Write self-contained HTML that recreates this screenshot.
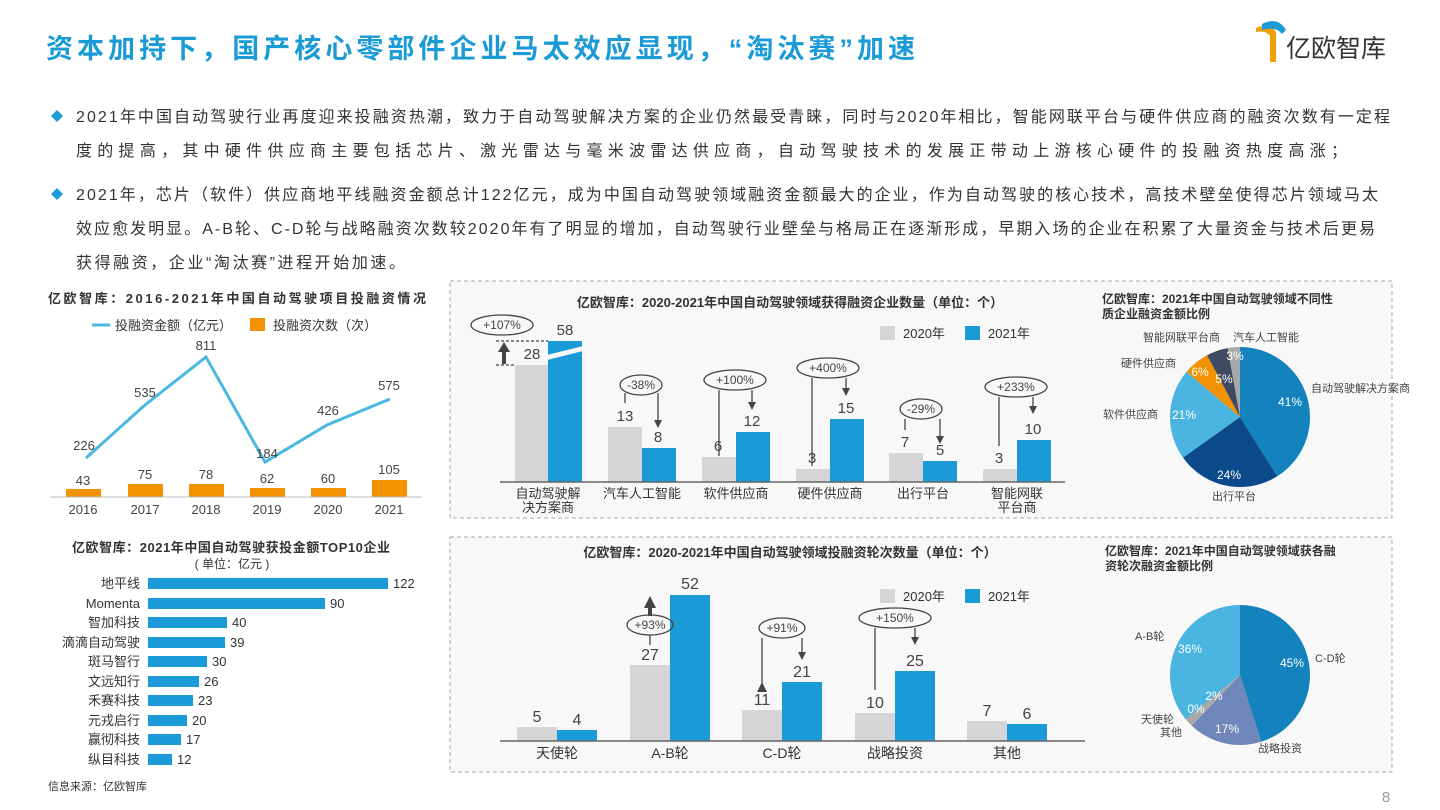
<!DOCTYPE html>
<html><head><meta charset="utf-8"><style>
html,body{margin:0;padding:0;background:#fff;}
svg{display:block;font-family:"Liberation Sans","Noto Sans CJK SC",sans-serif;}
</style></head><body>
<svg width="1440" height="810" viewBox="0 0 1440 810" xmlns="http://www.w3.org/2000/svg">
<rect width="1440" height="810" fill="#fff"/>
<!-- title -->
<text x="46" y="58" font-size="27" font-weight="bold" fill="#1a9ad6" textLength="869" lengthAdjust="spacing">资本加持下，国产核心零部件企业马太效应显现，“淘汰赛”加速</text>
<!-- logo -->
<g>
<path d="M1256 28 q14 -6 20 4 l0 30 l-6 0 l0 -26 q-4 -6 -14 -4z" fill="#f0a000"/>
<path d="M1262 24 q16 -8 24 6 l-4 4 q-6 -8 -20 -4z" fill="#1a9ad6"/>
<text x="1286" y="57" font-size="25" fill="#333">亿欧智库</text>
</g>
<!-- bullets -->
<g font-size="16" fill="#333">
<path d="M57 110 l6 6 l-6 6 l-6 -6z" fill="#1a9ad6"/>
<text x="76" y="122" textLength="1314" lengthAdjust="spacing">2021年中国自动驾驶行业再度迎来投融资热潮，致力于自动驾驶解决方案的企业仍然最受青睐，同时与2020年相比，智能网联平台与硬件供应商的融资次数有一定程</text>
<text x="76" y="156" textLength="1271" lengthAdjust="spacing">度的提高，其中硬件供应商主要包括芯片、激光雷达与毫米波雷达供应商，自动驾驶技术的发展正带动上游核心硬件的投融资热度高涨；</text>
<path d="M57 188 l6 6 l-6 6 l-6 -6z" fill="#1a9ad6"/>
<text x="76" y="200" textLength="1302" lengthAdjust="spacing">2021年，芯片（软件）供应商地平线融资金额总计122亿元，成为中国自动驾驶领域融资金额最大的企业，作为自动驾驶的核心技术，高技术壁垒使得芯片领域马太</text>
<text x="76" y="234" textLength="1299" lengthAdjust="spacing">效应愈发明显。A-B轮、C-D轮与战略融资次数较2020年有了明显的增加，自动驾驶行业壁垒与格局正在逐渐形成，早期入场的企业在积累了大量资金与技术后更易</text>
<text x="76" y="268" textLength="329" lengthAdjust="spacing">获得融资，企业“淘汰赛”进程开始加速。</text>
</g>

<!-- Top-left chart -->
<text x="48" y="303" font-size="13" font-weight="bold" fill="#333" textLength="378" lengthAdjust="spacing">亿欧智库：2016-2021年中国自动驾驶项目投融资情况</text>
<line x1="92" y1="325" x2="110" y2="325" stroke="#4ab8e0" stroke-width="3"/>
<text x="115" y="330" font-size="13" fill="#333">投融资金额（亿元）</text>
<rect x="250" y="318" width="15" height="13" fill="#f39200"/>
<text x="273" y="330" font-size="13" fill="#333">投融资次数（次）</text>
<polyline points="86,458 145,405 206,357 265,462 327,425 390,399" fill="none" stroke="#4ab8e0" stroke-width="3"/>
<g font-size="13" fill="#444" text-anchor="middle">
<text x="84" y="450">226</text><text x="145" y="397">535</text><text x="206" y="350">811</text>
<text x="267" y="458">184</text><text x="328" y="415">426</text><text x="389" y="390">575</text>
</g>
<g fill="#f39200">
<rect x="66" y="489" width="35" height="8"/><rect x="128" y="484" width="35" height="13"/>
<rect x="189" y="484" width="35" height="13"/><rect x="250" y="488" width="35" height="9"/>
<rect x="311" y="488" width="35" height="9"/><rect x="372" y="480" width="35" height="17"/>
</g>
<g font-size="13" fill="#444" text-anchor="middle">
<text x="83" y="485">43</text><text x="145" y="479">75</text><text x="206" y="479">78</text>
<text x="267" y="483">62</text><text x="328" y="483">60</text><text x="389" y="474">105</text>
</g>
<line x1="50" y1="497" x2="422" y2="497" stroke="#bbb"/>
<g font-size="13" fill="#444" text-anchor="middle">
<text x="83" y="514">2016</text><text x="145" y="514">2017</text><text x="206" y="514">2018</text>
<text x="267" y="514">2019</text><text x="328" y="514">2020</text><text x="389" y="514">2021</text>
</g>

<!-- Bottom-left chart -->
<text x="72" y="552" font-size="13" font-weight="bold" fill="#333" textLength="318" lengthAdjust="spacing">亿欧智库：2021年中国自动驾驶获投金额TOP10企业</text>
<text x="232" y="568" font-size="12" fill="#333" text-anchor="middle">( 单位：亿元 )</text>
<g font-size="13" fill="#333">
<g text-anchor="end">
<text x="140" y="588">地平线</text><text x="140" y="608">Momenta</text><text x="140" y="627">智加科技</text>
<text x="140" y="647">滴滴自动驾驶</text><text x="140" y="666">斑马智行</text><text x="140" y="686">文远知行</text>
<text x="140" y="705">禾赛科技</text><text x="140" y="725">元戎启行</text><text x="140" y="744">赢彻科技</text>
<text x="140" y="764">纵目科技</text>
</g>
<g fill="#1a9ad6">
<rect x="148" y="578" width="240" height="11"/><rect x="148" y="598" width="177" height="11"/>
<rect x="148" y="617" width="79" height="11"/><rect x="148" y="637" width="77" height="11"/>
<rect x="148" y="656" width="59" height="11"/><rect x="148" y="676" width="51" height="11"/>
<rect x="148" y="695" width="45" height="11"/><rect x="148" y="715" width="39" height="11"/>
<rect x="148" y="734" width="33" height="11"/><rect x="148" y="754" width="24" height="11"/>
</g>
<text x="393" y="588">122</text><text x="330" y="608">90</text><text x="232" y="627">40</text>
<text x="230" y="647">39</text><text x="212" y="666">30</text><text x="204" y="686">26</text>
<text x="198" y="705">23</text><text x="192" y="725">20</text><text x="186" y="744">17</text>
<text x="177" y="764">12</text>
</g>
<text x="48" y="790" font-size="11" fill="#333">信息来源：亿欧智库</text>
<text x="1386" y="802" font-size="15" fill="#999" text-anchor="middle">8</text>

<!-- Boxes -->
<rect x="450" y="281" width="942" height="237" fill="#f8f8f8" stroke="#aaa" stroke-dasharray="4,3"/>
<rect x="450" y="537" width="942" height="235" fill="#f8f8f8" stroke="#aaa" stroke-dasharray="4,3"/>

<!-- Top middle chart -->
<text x="790" y="307" font-size="13" font-weight="bold" fill="#333" text-anchor="middle">亿欧智库：2020-2021年中国自动驾驶领域获得融资企业数量（单位：个）</text>
<rect x="880" y="326" width="15" height="14" fill="#d5d5d7"/><text x="903" y="338" font-size="13" fill="#333">2020年</text>
<rect x="965" y="326" width="15" height="14" fill="#1a9ad6"/><text x="988" y="338" font-size="13" fill="#333">2021年</text>
<g fill="#d5d5d7">
<rect x="515" y="365" width="33" height="117"/><rect x="608" y="427" width="34" height="55"/>
<rect x="702" y="457" width="34" height="25"/><rect x="796" y="469" width="34" height="13"/>
<rect x="889" y="453" width="34" height="29"/><rect x="983" y="469" width="34" height="13"/>
</g>
<g fill="#1a9ad6">
<rect x="548" y="341" width="34" height="141"/><rect x="642" y="448" width="34" height="34"/>
<rect x="736" y="432" width="34" height="50"/><rect x="830" y="419" width="34" height="63"/>
<rect x="923" y="461" width="34" height="21"/><rect x="1017" y="440" width="34" height="42"/>
</g>
<path d="M543 356 L587 345 L587 350 L543 361 Z" fill="#f8f8f8"/>
<line x1="500" y1="482" x2="1065" y2="482" stroke="#666" stroke-width="1.5"/>
<g font-size="15" fill="#444" text-anchor="middle">
<text x="532" y="359">28</text><text x="565" y="335">58</text>
<text x="625" y="421">13</text><text x="658" y="442">8</text>
<text x="718" y="451">6</text><text x="752" y="426">12</text>
<text x="812" y="463">3</text><text x="846" y="413">15</text>
<text x="905" y="447">7</text><text x="940" y="455">5</text>
<text x="999" y="463">3</text><text x="1033" y="434">10</text>
</g>
<g font-size="13" fill="#333" text-anchor="middle">
<text x="548" y="498">自动驾驶解</text><text x="548" y="512">决方案商</text>
<text x="642" y="498">汽车人工智能</text><text x="736" y="498">软件供应商</text>
<text x="830" y="498">硬件供应商</text><text x="923" y="498">出行平台</text>
<text x="1017" y="498">智能网联</text><text x="1017" y="512">平台商</text>
</g>
<g fill="none" stroke="#444" stroke-width="1.3">
<ellipse cx="502" cy="325" rx="31" ry="10"/>
<line x1="496" y1="341" x2="548" y2="341" stroke-dasharray="3,2"/><line x1="496" y1="365" x2="515" y2="365" stroke-dasharray="3,2"/>
<ellipse cx="641" cy="385" rx="21" ry="10"/>
<polyline points="625,393 625,403"/><polyline points="658,393 658,420"/>
<ellipse cx="735" cy="380" rx="31" ry="10"/>
<polyline points="719,390 719,456"/><polyline points="752,390 752,402"/>
<ellipse cx="828" cy="368" rx="31" ry="10"/>
<polyline points="812,378 812,466"/><polyline points="846,378 846,388"/>
<ellipse cx="921" cy="409" rx="21" ry="10"/>
<polyline points="905,419 905,430"/><polyline points="940,419 940,436"/>
<ellipse cx="1016" cy="387" rx="31" ry="10"/>
<polyline points="999,397 999,446"/><polyline points="1033,397 1033,406"/>
</g>
<g fill="#444">
<rect x="502" y="350" width="4" height="14"/><path d="M498 352 L504 342 L510 352Z"/>
<path d="M654 420 L658 428 L662 420Z"/><path d="M748 402 L752 410 L756 402Z"/>
<path d="M842 388 L846 396 L850 388Z"/><path d="M936 436 L940 444 L944 436Z"/>
<path d="M1029 406 L1033 414 L1037 406Z"/>
</g>
<g font-size="12" fill="#444" text-anchor="middle">
<text x="502" y="329">+107%</text><text x="641" y="389">-38%</text><text x="735" y="384">+100%</text>
<text x="828" y="372">+400%</text><text x="921" y="413">-29%</text><text x="1016" y="391">+233%</text>
</g>

<!-- Top pie -->
<text x="1102" y="303" font-size="12" font-weight="bold" fill="#333">亿欧智库：2021年中国自动驾驶领域不同性</text>
<text x="1102" y="318" font-size="12" font-weight="bold" fill="#333">质企业融资金额比例</text>
<g transform="translate(1240,417) rotate(-90)" fill="none" stroke-width="70">
<circle r="35" stroke="#1482bc" stroke-dasharray="90.2 220"/>
<circle r="35" stroke="#0d4a8c" stroke-dasharray="52.8 220" stroke-dashoffset="-90.2"/>
<circle r="35" stroke="#4ab5e0" stroke-dasharray="46.2 220" stroke-dashoffset="-143"/>
<circle r="35" stroke="#f39200" stroke-dasharray="13.2 220" stroke-dashoffset="-189.2"/>
<circle r="35" stroke="#3d4a62" stroke-dasharray="11 220" stroke-dashoffset="-202.4"/>
<circle r="35" stroke="#a8a8a8" stroke-dasharray="6.6 220" stroke-dashoffset="-213.4"/>
</g>
<g font-size="12" fill="#fff" text-anchor="middle">
<text x="1290" y="406">41%</text><text x="1229" y="479">24%</text><text x="1184" y="419">21%</text>
<text x="1200" y="376">6%</text><text x="1224" y="383">5%</text><text x="1235" y="360">3%</text>
</g>
<g font-size="11" fill="#444">
<text x="1311" y="392">自动驾驶解决方案商</text><text x="1212" y="500">出行平台</text>
<text x="1103" y="418">软件供应商</text><text x="1121" y="367">硬件供应商</text>
<text x="1143" y="341">智能网联平台商</text><text x="1233" y="341">汽车人工智能</text>
</g>

<!-- Bottom middle chart -->
<text x="790" y="557" font-size="13" font-weight="bold" fill="#333" text-anchor="middle">亿欧智库：2020-2021年中国自动驾驶领域投融资轮次数量（单位：个）</text>
<rect x="880" y="589" width="15" height="14" fill="#d5d5d7"/><text x="903" y="601" font-size="13" fill="#333">2020年</text>
<rect x="965" y="589" width="15" height="14" fill="#1a9ad6"/><text x="988" y="601" font-size="13" fill="#333">2021年</text>
<g fill="#d5d5d7">
<rect x="517" y="727" width="40" height="14"/><rect x="630" y="665" width="40" height="76"/>
<rect x="742" y="710" width="40" height="31"/><rect x="855" y="713" width="40" height="28"/>
<rect x="967" y="721" width="40" height="20"/>
</g>
<g fill="#1a9ad6">
<rect x="557" y="730" width="40" height="11"/><rect x="670" y="595" width="40" height="146"/>
<rect x="782" y="682" width="40" height="59"/><rect x="895" y="671" width="40" height="70"/>
<rect x="1007" y="724" width="40" height="17"/>
</g>
<line x1="500" y1="741" x2="1085" y2="741" stroke="#666" stroke-width="1.5"/>
<g font-size="16" fill="#444" text-anchor="middle">
<text x="537" y="722">5</text><text x="577" y="725">4</text>
<text x="650" y="660">27</text><text x="690" y="589">52</text>
<text x="762" y="705">11</text><text x="802" y="677">21</text>
<text x="875" y="708">10</text><text x="915" y="666">25</text>
<text x="987" y="716">7</text><text x="1027" y="719">6</text>
</g>
<g font-size="14" fill="#333" text-anchor="middle">
<text x="557" y="758">天使轮</text><text x="670" y="758">A-B轮</text><text x="782" y="758">C-D轮</text>
<text x="895" y="758">战略投资</text><text x="1007" y="758">其他</text>
</g>
<g fill="none" stroke="#444" stroke-width="1.3">
<ellipse cx="650" cy="625" rx="23" ry="10"/><line x1="650" y1="635" x2="650" y2="645"/>
<ellipse cx="782" cy="628" rx="23" ry="10"/>
<polyline points="762,638 762,686"/><polyline points="802,638 802,652"/>
<ellipse cx="895" cy="618" rx="36" ry="10"/>
<polyline points="875,628 875,690"/><polyline points="915,628 915,637"/>
</g>
<g fill="#444">
<rect x="648" y="606" width="4" height="10"/><path d="M644 608 L650 596 L656 608Z"/>
<path d="M757 692 L762 682 L767 692Z"/><path d="M798 652 L802 660 L806 652Z"/>
<path d="M911 637 L915 645 L919 637Z"/>
</g>
<g font-size="12" fill="#444" text-anchor="middle">
<text x="650" y="629">+93%</text><text x="782" y="632">+91%</text><text x="895" y="622">+150%</text>
</g>

<!-- Bottom pie -->
<text x="1105" y="555" font-size="12" font-weight="bold" fill="#333">亿欧智库：2021年中国自动驾驶领域获各融</text>
<text x="1105" y="570" font-size="12" font-weight="bold" fill="#333">资轮次融资金额比例</text>
<g transform="translate(1240,675) rotate(-90)" fill="none" stroke-width="70">
<circle r="35" stroke="#1482bc" stroke-dasharray="99 220"/>
<circle r="35" stroke="#6f87bb" stroke-dasharray="37.4 220" stroke-dashoffset="-99"/>
<circle r="35" stroke="#a8a8a8" stroke-dasharray="4.4 220" stroke-dashoffset="-136.4"/>
<circle r="35" stroke="#4ab5e0" stroke-dasharray="79.2 220" stroke-dashoffset="-140.8"/>
</g>
<g font-size="12" fill="#fff" text-anchor="middle">
<text x="1292" y="667">45%</text><text x="1227" y="733">17%</text><text x="1190" y="653">36%</text>
<text x="1214" y="700">2%</text><text x="1196" y="713">0%</text>
</g>
<g font-size="11" fill="#444">
<text x="1315" y="662">C-D轮</text><text x="1258" y="752">战略投资</text>
<text x="1135" y="640">A-B轮</text><text x="1141" y="723">天使轮</text><text x="1160" y="736">其他</text>
</g>
</svg>
</body></html>
